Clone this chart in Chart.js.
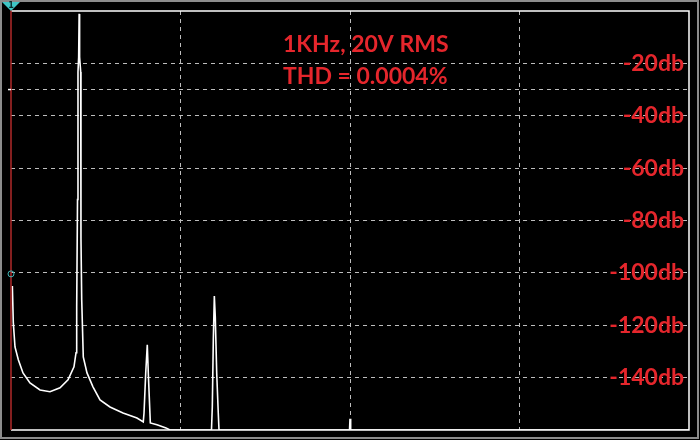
<!DOCTYPE html>
<html>
<head>
<meta charset="utf-8">
<script src="https://cdn.jsdelivr.net/npm/chart.js@4.4.0/dist/chart.umd.min.js"></script>
<style>
  html, body { margin: 0; padding: 0; background: #000; }
  #wrap { width: 700px; height: 440px; }
</style>
</head>
<body>
<div id="wrap"><canvas id="myChart" width="700" height="440"></canvas></div>
<script>
// spectrum trace (kHz / dB)
var freqKHz = [0.02, 0.034, 0.059, 0.108, 0.177, 0.28, 0.428, 0.575, 0.723, 0.841, 0.929, 0.959, 0.969, 0.981, 0.988, 0.998, 1.005, 1.012, 1.028, 1.032, 1.043, 1.066, 1.121, 1.209, 1.313, 1.46, 1.652, 1.858, 1.951, 1.962, 1.987, 2.01, 2.025, 2.055, 2.153, 2.286, 2.345, 2.957, 2.969, 2.984, 2.999, 3.013, 3.034, 3.057, 3.068, 4.993, 5.0, 5.01, 10];
var levelDb = [-105, -119, -128.3, -133.2, -138.2, -142, -144.7, -145.4, -143.9, -140.8, -135.9, -130.5, -112.9, -72, -23.3, -17.6, -1.1, -17.6, -23.3, -87, -110.3, -132.1, -138.2, -143.5, -148.5, -151.2, -153.5, -155.4, -156.9, -153.5, -138.2, -127.5, -138.2, -157.3, -158, -159.2, -160, -160, -151.2, -125.6, -108.8, -116.8, -138.2, -153.5, -160, -160, -155.7, -160, -160];

var gridDb = [0, -20, -30, -40, -60, -80, -100, -120, -140, -160];
var dbLabels = { "-20": "-20db", "-40": "-40db", "-60": "-60db", "-80": "-80db", "-100": "-100db", "-120": "-120db", "-140": "-140db" };
var noteLines = ["1KHz, 20V RMS", "THD = 0.0004%"];
var refLevelDb = -30;
var trigLevelDb = -100;

var red = "#e5262c";
var gridColor = "#bdbdbd";

var points = freqKHz.map((f, i) => ({ x: f, y: levelDb[i] }));

// frame, markers and the note text
var scopeDecor = {
  id: "scopeDecor",
  afterDraw: function (chart) {
    var ctx = chart.ctx;
    var a = chart.chartArea;
    var ys = chart.scales.y;
    ctx.save();
    // outer grey border
    ctx.strokeStyle = "#8c8c8c";
    ctx.lineWidth = 2;
    ctx.strokeRect(1, 1, 697, 437);
    // white frame
    ctx.strokeStyle = "#ffffff";
    ctx.lineWidth = 1.5;
    ctx.beginPath();
    ctx.moveTo(a.left, a.top);
    ctx.lineTo(a.right, a.top);
    ctx.lineTo(a.right, a.bottom);
    ctx.lineTo(a.left, a.bottom);
    ctx.stroke();
    // red left line
    ctx.strokeStyle = "#b02a2a";
    ctx.beginPath();
    ctx.moveTo(a.left, 2);
    ctx.lineTo(a.left, a.bottom);
    ctx.stroke();
    // ref level tick
    var yr = ys.getPixelForValue(refLevelDb);
    ctx.strokeStyle = "#ffffff";
    ctx.beginPath();
    ctx.moveTo(a.left - 3, yr);
    ctx.lineTo(a.left, yr);
    ctx.stroke();
    // trigger circle
    var yt = ys.getPixelForValue(trigLevelDb);
    ctx.strokeStyle = "#40b8b8";
    ctx.lineWidth = 1;
    ctx.beginPath();
    ctx.arc(a.left, yt + 1, 3, 0, Math.PI * 2);
    ctx.stroke();
    // channel marker
    ctx.fillStyle = "#3fc6c6";
    ctx.beginPath();
    ctx.moveTo(2, 2);
    ctx.lineTo(20, 2);
    ctx.lineTo(a.left, a.top);
    ctx.closePath();
    ctx.fill();
    ctx.fillStyle = "#0a2a2a";
    ctx.font = "bold 8px 'DejaVu Sans'";
    ctx.textAlign = "center";
    ctx.textBaseline = "top";
    ctx.fillText("1", a.left, 2);
    // note
    ctx.fillStyle = red;
    ctx.font = "bold 23px Lato";
    ctx.textAlign = "left";
    ctx.textBaseline = "alphabetic";
    ctx.fillText(noteLines[0], 283, 52);
    ctx.fillText(noteLines[1], 283, 84);
    ctx.restore();
  },
};

function gridLine(edgeA, edgeB) {
  return (c) => (c.tick && (c.tick.value === edgeA || c.tick.value === edgeB) ? "rgba(0,0,0,0)" : gridColor);
}

var ctx = document.getElementById("myChart").getContext("2d");
var chart = new Chart(ctx, {
  type: "line",
  data: {
    datasets: [
      {
        label: "spectrum",
        data: points,
        borderColor: "#ffffff",
        borderWidth: 1.6,
        tension: 0,
        pointRadius: 0,
      },
    ],
  },
  options: {
    animation: false,
    responsive: false,
    devicePixelRatio: 1,
    layout: {
      padding: { left: 11, top: 11, right: 11, bottom: 10 },
    },
    plugins: {
      legend: { display: false },
      tooltip: { enabled: false },
    },
    scales: {
      x: {
        type: "linear",
        min: 0,
        max: 10,
        ticks: { display: false, stepSize: 2.5 },
        grid: { color: gridLine(0, 10), lineWidth: 1, drawTicks: false },
        border: { display: false, dash: [4, 4] },
        afterFit: (scale) => {
          scale.height = 0;
        },
      },
      y: {
        position: "right",
        min: -160,
        max: 0,
        afterBuildTicks: (scale) => {
          scale.ticks = gridDb.map((v) => ({ value: v }));
        },
        afterFit: (scale) => {
          // labels sit inside the plot, so the axis takes no room
          scale.width = 0;
          scale.paddingTop = 0;
          scale.paddingBottom = 0;
        },
        ticks: {
          mirror: true,
          padding: -5,
          color: red,
          font: { family: "Lato", weight: "bold", size: 23 },
          callback: (v) => dbLabels[String(v)] || "",
        },
        grid: { color: gridLine(0, -160), lineWidth: 1, drawTicks: false },
        border: { display: false, dash: [4, 4] },
      },
    },
  },
  plugins: [scopeDecor],
});
</script>
</body>
</html>
